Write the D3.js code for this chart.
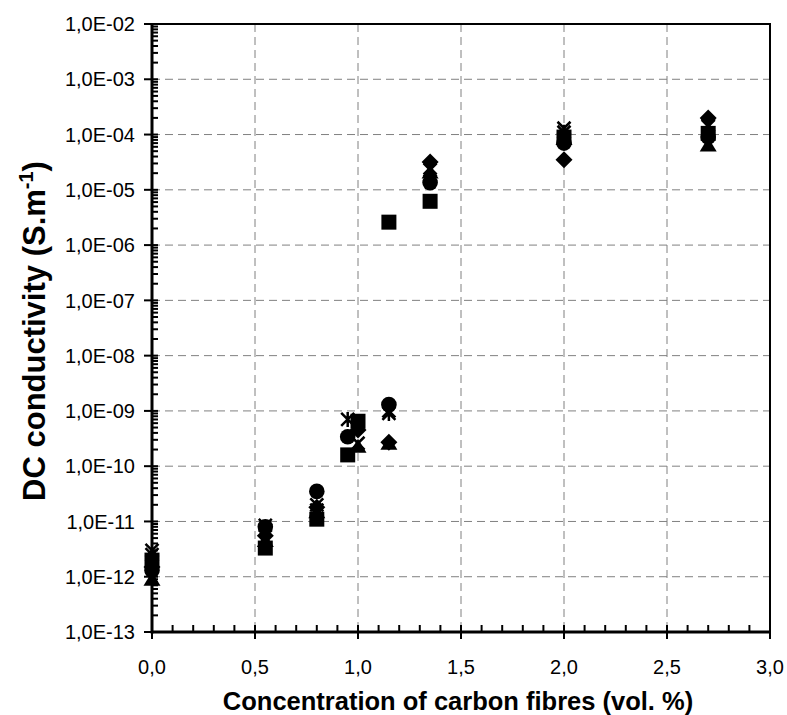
<!DOCTYPE html>
<html><head><meta charset="utf-8">
<script src="https://cdn.jsdelivr.net/npm/d3@7"></script>
<style>body{margin:0;background:#fff}svg{display:block;font-family:"Liberation Sans",Arial,sans-serif}</style>
</head><body><svg id="c" width="787" height="715"></svg>
<script>
// ---- data ----
const xTicks = [0, 0.5, 1.0, 1.5, 2.0, 2.5, 3.0];
const xTickLabels = ["0,0","0,5","1,0","1,5","2,0","2,5","3,0"];
const yTicks = [1e-13,1e-12,1e-11,1e-10,1e-9,1e-8,1e-7,1e-6,1e-5,1e-4,1e-3,1e-2];
const yTickLabels = ["1,0E-13","1,0E-12","1,0E-11","1,0E-10","1,0E-09","1,0E-08","1,0E-07","1,0E-06","1,0E-05","1,0E-04","1,0E-03","1,0E-02"];

const diamondX = [0, 0.55, 0.8, 1.0, 1.15, 1.35, 2.0, 2.7];
const diamondY = [1.5e-12, 5.5e-12, 1.8e-11, 4.5e-10, 2.7e-10, 3.2e-5, 3.5e-5, 2.0e-4];
const squareX  = [0, 0.55, 0.8, 0.95, 1.0, 1.15, 1.35, 2.0, 2.7];
const squareY  = [2.0e-12, 3.3e-12, 1.1e-11, 1.6e-10, 6.5e-10, 2.6e-6, 6.2e-6, 9.0e-5, 1.05e-4];
const triangleX = [0, 0.55, 0.8, 1.0, 1.15, 1.35, 2.0, 2.7];
const triangleY = [9e-13, 4.5e-12, 1.5e-11, 2.3e-10, 2.6e-10, 2.1e-5, 8.5e-5, 6.5e-5];
const crossX = [0, 0.55, 0.8, 1.0, 1.15, 1.35, 2.0, 2.7];
const crossY = [3.0e-12, 8.5e-12, 2.0e-11, 2.6e-10, 1.0e-9, 2.5e-5, 1.3e-4, 1.5e-4];
const starX = [0, 0.55, 0.8, 0.95, 1.15, 1.35, 2.0, 2.7];
const starY = [2.5e-12, 7e-12, 1.6e-11, 7e-10, 9e-10, 2.3e-5, 1.1e-4, 1.4e-4];
const circleX = [0, 0.55, 0.8, 0.95, 1.15, 1.35, 2.0, 2.7];
const circleY = [1.3e-12, 8e-12, 3.5e-11, 3.4e-10, 1.3e-9, 1.35e-5, 7e-5, 9e-5];

const series = [
  {shape:"diamond", xs:diamondX, ys:diamondY},
  {shape:"square", xs:squareX, ys:squareY},
  {shape:"triangle", xs:triangleX, ys:triangleY},
  {shape:"cross", xs:crossX, ys:crossY},
  {shape:"star", xs:starX, ys:starY},
  {shape:"circle", xs:circleX, ys:circleY}
];

// ---- layout ----
const L = 152, R = 770, T = 24, B = 632;
const svg = d3.select("#c");
const x = d3.scaleLinear().domain([0,3]).range([L,R]);
const y = d3.scaleLog().domain([1e-13,1e-2]).range([B,T]);

// grid
const grid = svg.append("g").attr("stroke","#808080").attr("stroke-width",1).attr("stroke-dasharray","8,5");
grid.selectAll(".gx").data(xTicks.slice(1,-1)).join("line")
  .attr("x1",d=>x(d)).attr("x2",d=>x(d)).attr("y1",T).attr("y2",B);
grid.selectAll(".gy").data(yTicks.slice(1,-1)).join("line")
  .attr("x1",L).attr("x2",R).attr("y1",d=>y(d)).attr("y2",d=>y(d));

// border top/right
svg.append("path").attr("d",`M${L},${T}H${R}V${B}`).attr("fill","none").attr("stroke","#000").attr("stroke-width",2);

// x axis
const xMinor = d3.range(0,31).map(i=>i/10).filter(v=>Math.abs(v*2-Math.round(v*2))>1e-6);
const gxA = svg.append("g").attr("stroke","#000");
gxA.selectAll(".mn").data(xMinor).join("line")
  .attr("x1",d=>x(d)).attr("x2",d=>x(d)).attr("y1",B).attr("y2",B-7).attr("stroke-width",2);
gxA.selectAll(".mj").data(xTicks).join("line")
  .attr("x1",d=>x(d)).attr("x2",d=>x(d)).attr("y1",B-7).attr("y2",B+7).attr("stroke-width",2);
svg.append("line").attr("x1",L).attr("x2",R+1).attr("y1",B).attr("y2",B).attr("stroke","#000").attr("stroke-width",3);
svg.append("g").selectAll("text").data(xTicks).join("text")
  .attr("x",d=>x(d)).attr("y",B+42).attr("text-anchor","middle").attr("font-size",20)
  .text((d,i)=>xTickLabels[i]);

// y axis
const yMinor = [];
for (let e=-13;e<-2;e++) for (let k=2;k<10;k++) yMinor.push(k*Math.pow(10,e));
const gyA = svg.append("g").attr("stroke","#000");
gyA.selectAll(".mn").data(yMinor).join("line")
  .attr("x1",L).attr("x2",L+6).attr("y1",d=>y(d)).attr("y2",d=>y(d)).attr("stroke-width",2);
gyA.selectAll(".mj").data(yTicks).join("line")
  .attr("x1",L-8).attr("x2",L+6).attr("y1",d=>y(d)).attr("y2",d=>y(d)).attr("stroke-width",2);
svg.append("line").attr("x1",L).attr("x2",L).attr("y1",T-1).attr("y2",B+1.5).attr("stroke","#000").attr("stroke-width",3);
svg.append("g").selectAll("text").data(yTicks).join("text")
  .attr("x",L-17).attr("y",d=>y(d)).attr("dy","0.36em").attr("text-anchor","end").attr("font-size",20)
  .text((d,i)=>yTickLabels[i]);

// titles
svg.append("text").attr("x",458).attr("y",710).attr("text-anchor","middle")
  .attr("font-size",25.5).attr("font-weight","bold").text("Concentration of carbon fibres (vol. %)");
const yt = svg.append("text").attr("transform",`translate(45,331) rotate(-90)`)
  .attr("text-anchor","middle").attr("font-size",31).attr("font-weight","bold");
yt.append("tspan").text("DC conductivity (S.m");
yt.append("tspan").attr("font-size",20).attr("dy",-12).text("-1");
yt.append("tspan").attr("dy",12).text(")");

// markers
function drawMarker(g, shape, cx, cy) {
  if (shape==="square") {
    g.append("rect").attr("x",cx-7.5).attr("y",cy-7.5).attr("width",15).attr("height",15).attr("fill","#000");
  } else if (shape==="circle") {
    g.append("circle").attr("cx",cx).attr("cy",cy).attr("r",7.8).attr("fill","#000");
  } else if (shape==="diamond") {
    g.append("path").attr("d",`M${cx},${cy-8.5}L${cx+8.5},${cy}L${cx},${cy+8.5}L${cx-8.5},${cy}Z`).attr("fill","#000");
  } else if (shape==="triangle") {
    g.append("path").attr("d",`M${cx},${cy-7.5}L${cx+8.5},${cy+6.5}L${cx-8.5},${cy+6.5}Z`).attr("fill","#000");
  } else if (shape==="cross" || shape==="star") {
    const s = 6.5;
    let d = `M${cx-s},${cy-s}L${cx+s},${cy+s}M${cx+s},${cy-s}L${cx-s},${cy+s}`;
    if (shape==="star") d += `M${cx},${cy-s-1}L${cx},${cy+s+1}`;
    g.append("path").attr("d",d).attr("fill","none").attr("stroke","#000").attr("stroke-width",2.5);
  }
}
const mg = svg.append("g");
series.forEach(s => {
  s.xs.forEach((xv,i) => drawMarker(mg, s.shape, x(xv), y(s.ys[i])));
});
</script></body></html>
